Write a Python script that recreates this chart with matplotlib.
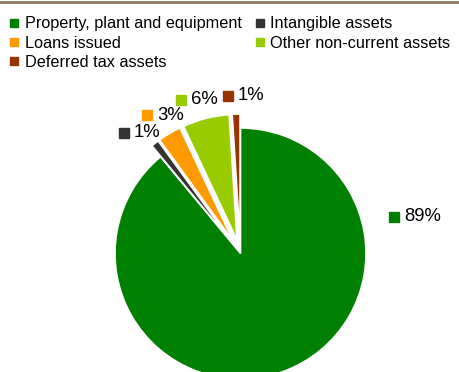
import matplotlib.pyplot as plt
from matplotlib.lines import Line2D

plt.rcParams['font.family'] = ['Liberation Sans', 'DejaVu Sans']

categories = ['Property, plant and equipment', 'Intangible assets', 'Loans issued',
              'Other non-current assets', 'Deferred tax assets']
shares = [89, 1, 3, 6, 1]
colors = ['#008000', '#333333', '#ff9900', '#99cc00', '#993300']
explode = [0, 14, 14, 14, 14]

# label anchor (marker centre) for each slice, in pixel coords from the top-left
label_pos = [(394, 217), (124, 133), (147, 115), (181, 100), (228, 96)]

W, H = 460, 372
fig = plt.figure(figsize=(W / 100, H / 100), dpi=100)
ax = fig.add_axes([0, 0, 1, 1])

cx, cy, r = 240.5, H - 253.5, 125.5
ax.pie(shares, colors=colors, startangle=90, counterclock=False,
       explode=explode, center=(cx, cy), radius=r,
       wedgeprops=dict(edgecolor='white', linewidth=1.2))
ax.set_xlim(0, W)
ax.set_ylim(0, H)
ax.set_aspect('equal')
ax.axis('off')

for (px, py), c, v in zip(label_pos, colors, shares):
    ax.plot(px, H - py, marker='s', ms=6.5, color=c, mec=c)
    ax.text(px + 10, H - py, '{}%'.format(v), fontsize=13.3, va='center', ha='left')

# legend fills columns first, so reorder to read row by row
order = [0, 2, 4, 1, 3]
handles = [Line2D([], [], ls='', marker='s', ms=6.3, color=colors[i]) for i in order]
fig.legend(handles, [categories[i] for i in order], ncol=2, loc='upper left',
           bbox_to_anchor=(-0.008, 0.991), frameon=False, fontsize=11.7,
           handlelength=0.6, handletextpad=0.35, columnspacing=0.8,
           labelspacing=0.27, borderpad=0.3)

fig.add_artist(Line2D([0, 1], [1 - 1.5 / H, 1 - 1.5 / H], color='#8c7b65', lw=2))

fig.savefig('out.png', dpi=100)
